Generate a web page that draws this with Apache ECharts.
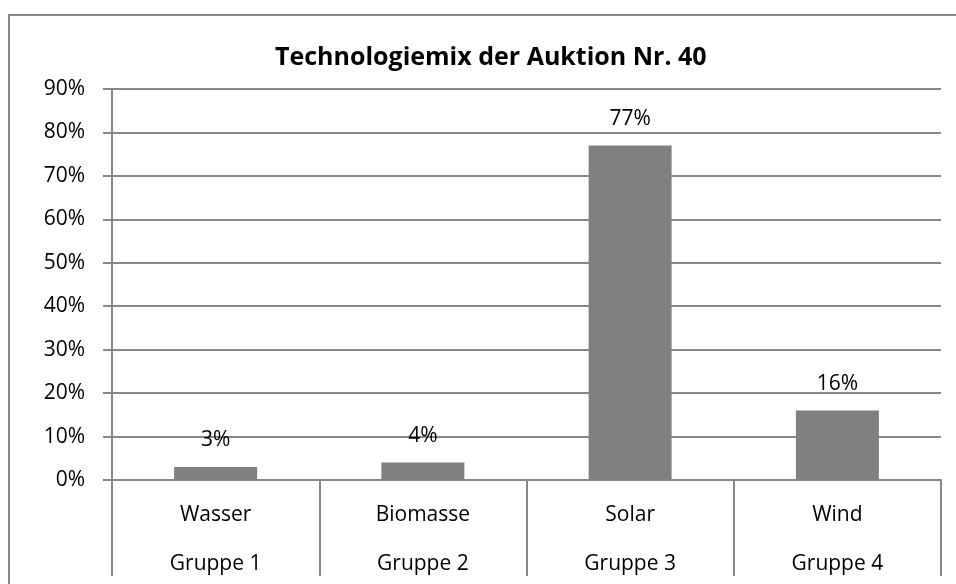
<!DOCTYPE html>
<html>
<head>
<meta charset="utf-8">
<script src="https://cdn.jsdelivr.net/npm/echarts@6/dist/echarts.min.js"></script>
<style>
  html, body { margin: 0; padding: 0; background: #fff; }
  #chart { width: 956px; height: 584px; }
</style>
</head>
<body>
<div id="chart"></div>
<script>
const technologies = ['Wasser', 'Biomasse', 'Solar', 'Wind']
const groups = ['Gruppe 1', 'Gruppe 2', 'Gruppe 3', 'Gruppe 4']
const shares = [3, 4, 77, 16]

const gridColor = '#878787'
const chart = echarts.init(document.getElementById('chart'))

const option = {
  animation: false,
  textStyle: { fontFamily: 'Open Sans' },
  title: {
    text: 'Technologiemix der Auktion Nr. 40',
    left: 275,
    top: 45,
    padding: 0,
    textStyle: { fontFamily: 'Open Sans', fontSize: 25, fontWeight: 'bold', color: '#000' }
  },
  // outer chart border, runs off the right and bottom edges
  graphic: [{
    type: 'rect',
    shape: { x: 9, y: 15, width: 1000, height: 1000 },
    style: { fill: 'none', stroke: gridColor, lineWidth: 2 },
    silent: true
  }],
  grid: { left: 112, right: 15, top: 89, bottom: 104, outerBoundsMode: 'none', containLabel: false },
  xAxis: {
    type: 'category',
    data: technologies.map((t, i) => t + '\n' + groups[i]),
    axisLine: { lineStyle: { color: gridColor, width: 2 } },
    axisTick: { show: true, interval: 0, length: 96, lineStyle: { color: gridColor, width: 2 } },
    axisLabel: {
      interval: 0,
      margin: 11,
      fontSize: 21,
      lineHeight: 49,
      color: '#000'
    }
  },
  yAxis: {
    type: 'value',
    min: 0,
    max: 90,
    interval: 10,
    axisLine: { show: true, lineStyle: { color: gridColor, width: 2 } },
    axisTick: { show: true, length: 9, lineStyle: { color: gridColor, width: 2 } },
    axisLabel: { formatter: '{value}%', fontSize: 21, color: '#000', margin: 27 },
    splitLine: { lineStyle: { color: gridColor, width: 2 } }
  },
  series: [{
    type: 'bar',
    data: shares,
    barWidth: 83,
    itemStyle: { color: '#808080' },
    label: {
      show: true,
      position: 'top',
      distance: 16,
      formatter: '{c}%',
      fontSize: 21,
      color: '#000'
    }
  }]
}
chart.setOption(option)
</script>
</body>
</html>
